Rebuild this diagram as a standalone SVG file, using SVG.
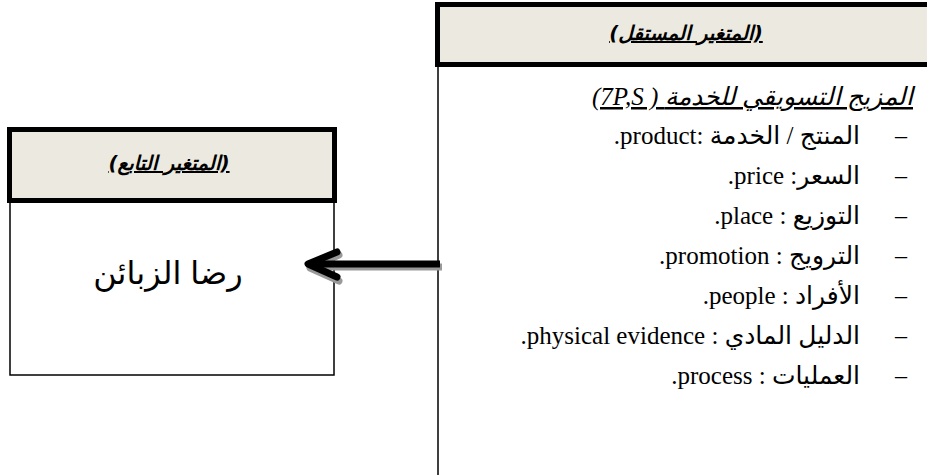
<svg xmlns="http://www.w3.org/2000/svg" width="927" height="475" viewBox="0 0 927 475">
<style>
.hdr{fill:#ECEAE0;stroke:#000;stroke-width:5}
.body{fill:#fff;stroke:#000;stroke-width:1.5}
.ht{font-family:"DejaVu Sans","Liberation Sans",sans-serif;font-weight:bold;font-style:italic;font-size:20px;text-decoration:underline;text-anchor:middle}
.rtl{direction:rtl;unicode-bidi:embed}
.li{font-family:"Liberation Serif","DejaVu Serif","DejaVu Sans",serif;font-size:25px;text-anchor:start}
.dash{font-family:"Liberation Serif",serif;font-size:24px}
</style>
<g id="independent">
<rect class="body" x="438" y="66" width="500" height="420"/>
<rect class="hdr" x="437.5" y="4.5" width="500" height="60"/>
<text class="ht rtl" x="686" y="40">(المتغير المستقل)</text>
<text x="913" y="105" direction="ltr" font-family="Liberation Serif, DejaVu Sans, serif" font-style="italic" font-size="25" text-decoration="underline" text-anchor="end">(7P,S ) المزيج التسويقي للخدمة</text>
<g class="dash">
<text x="895" y="143">–</text>
<text x="895" y="183">–</text>
<text x="895" y="223">–</text>
<text x="895" y="263">–</text>
<text x="895" y="303">–</text>
<text x="895" y="343">–</text>
<text x="895" y="383">–</text>
</g>
<text class="li rtl" x="860" y="144">المنتج / الخدمة :product.</text>
<text class="li rtl" x="860" y="184">السعر:  price.</text>
<text class="li rtl" x="860" y="224">التوزيع : place.</text>
<text class="li rtl" x="860" y="264">الترويج :  promotion.</text>
<text class="li rtl" x="860" y="304">الأفراد : people.</text>
<text class="li rtl" x="860" y="344">الدليل المادي :  physical evidence.</text>
<text class="li rtl" x="860" y="384">العمليات : process.</text>
</g>
<g id="dependent">
<rect class="body" x="10" y="200" width="324" height="175"/>
<rect class="hdr" x="9.5" y="129.5" width="325" height="71"/>
<text class="ht rtl" x="169" y="170">(المتغير التابع)</text>
<text class="rtl" x="168" y="284" font-family="Liberation Sans, DejaVu Sans, sans-serif" font-size="32" text-anchor="middle">رضا  الزبائن</text>
</g>
<g id="connectors">
<g fill="none" stroke="#999" stroke-width="7" stroke-linecap="round" stroke-linejoin="round" transform="translate(2,3)">
<line x1="440" y1="264" x2="312" y2="264" stroke-linecap="butt"/>
<polyline points="337,252 308,265 337,278"/>
</g>
<g fill="none" stroke="#000" stroke-width="7" stroke-linecap="round" stroke-linejoin="round">
<line x1="440" y1="264" x2="312" y2="264" stroke-linecap="butt"/>
<polyline points="337,252 308,264 337,277"/>
</g>
</g>
</svg>
